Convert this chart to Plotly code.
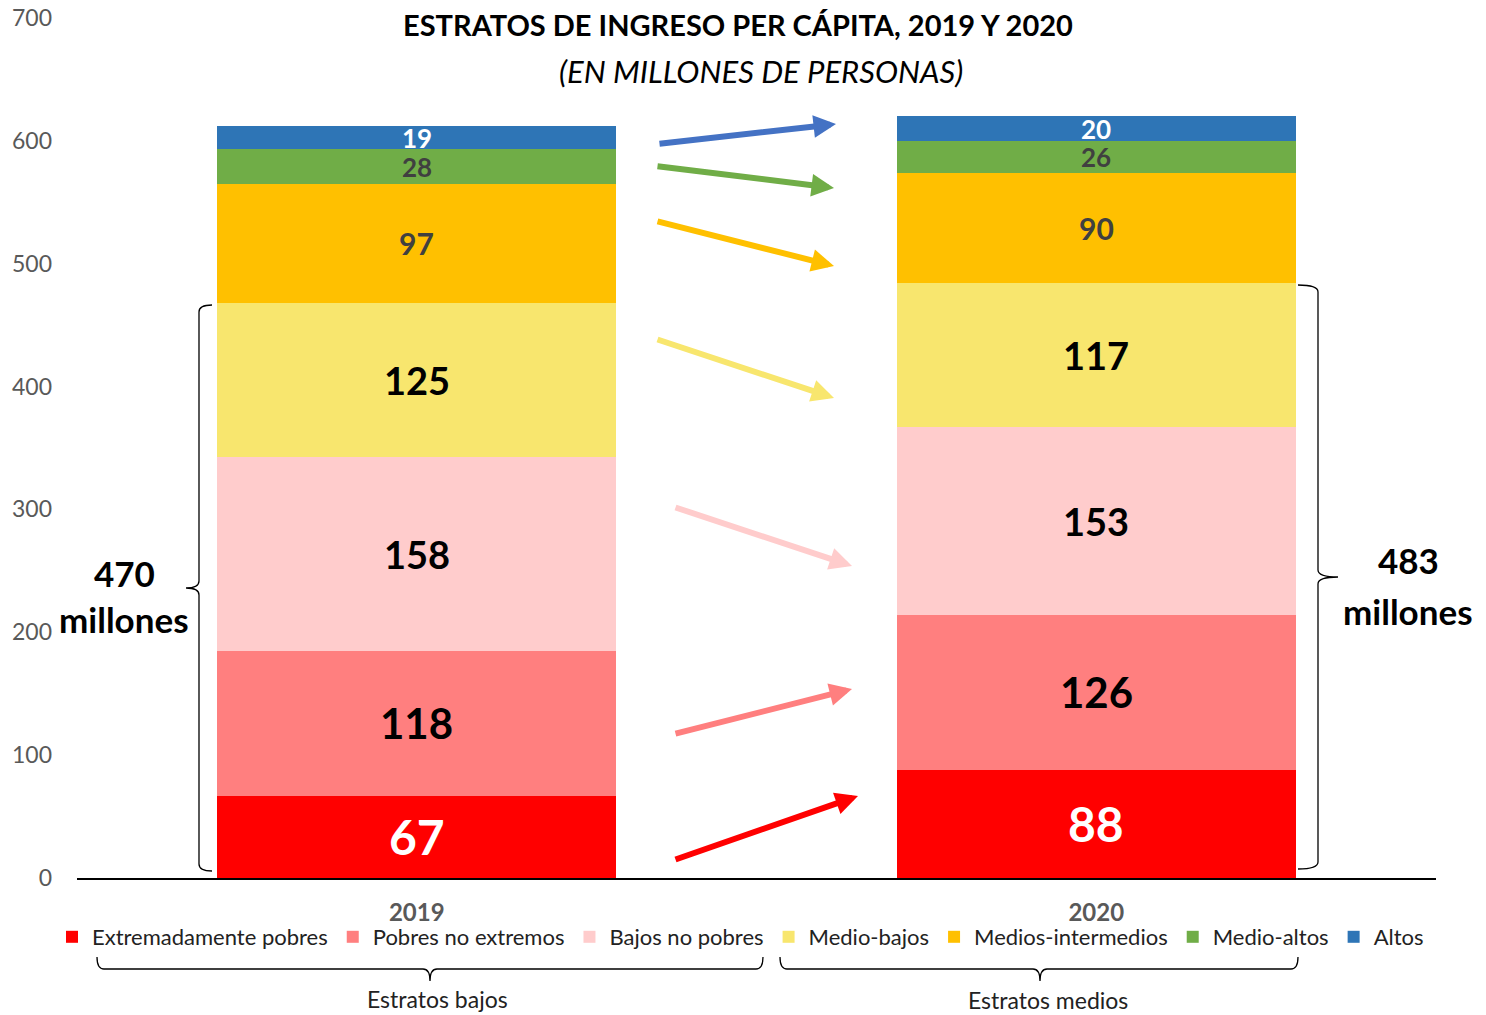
import plotly.graph_objects as go

# ---------------- data ----------------
years = ["2019", "2020"]
strata = ["Extremadamente pobres", "Pobres no extremos", "Bajos no pobres",
          "Medio-bajos", "Medios-intermedios", "Medio-altos", "Altos"]
extremadamente_pobres = [67, 88]
pobres_no_extremos = [118, 126]
bajos_no_pobres = [158, 153]
medio_bajos = [125, 117]
medios_intermedios = [97, 90]
medio_altos = [28, 26]
altos = [19, 20]
y_ticks = [0, 100, 200, 300, 400, 500, 600, 700]
total_bajos_label = ["470", "483"]

series = [extremadamente_pobres, pobres_no_extremos, bajos_no_pobres,
          medio_bajos, medios_intermedios, medio_altos, altos]

# ---------------- styles ----------------
colors = ["#FF0000", "#FF7F7F", "#FFCCCC", "#F8E66E", "#FFC000", "#70AD47", "#2E75B6"]
label_colors = ["#FFFFFF", "#000000", "#000000", "#000000", "#404040", "#404040", "#FFFFFF"]
label_sizes = [48, 42, 38, 38, 30, 26, 26]
arrow_colors = ["#FF0000", "#FF7F7F", "#FFCCCC", "#F8E66E", "#FFC000", "#70AD47", "#4472C4"]
FONT = "Lato"

# page has an 8px body margin; figure sized so the picture matches the 1486x1015 reference
OFF = 8
W, H = 1486 - OFF, 1015 - OFF
# plot area in reference-picture pixels
L, R, T, B = 77, 1436, 18, 878
PW, PH = R - L, B - T


def px(x):
    return (x - L) / PW


def py(y):
    return (B - y) / PH


fig = go.Figure()
for name, vals, col in zip(strata, series, colors):
    fig.add_trace(go.Bar(x=years, y=vals, name=name, marker=dict(color=col, line=dict(width=0)),
                         hoverinfo="y+name"))

annotations = []
# data labels at segment centres
for j, yr in enumerate(years):
    base = 0
    for i, vals in enumerate(series):
        v = vals[j]
        annotations.append(dict(x=j, y=base + v / 2, xref="x", yref="y", text=f"<b>{v}</b>",
                                showarrow=False, xanchor="center", yanchor="middle",
                                font=dict(family=FONT, size=label_sizes[i], color=label_colors[i])))
        base += v

# arrows (tail -> head) in pixel positions of the reference layout, per stratum
arrow_geom = [
    ((674, 860), (858, 796)),
    ((674, 734), (852, 689)),
    ((674, 507), (852, 566)),
    ((656, 339), (834, 398)),
    ((656, 221), (834, 266)),
    ((656, 166), (834, 188)),
    ((658, 144), (836, 124)),
]
for (t0, h0), col in zip(arrow_geom, arrow_colors):
    annotations.append(dict(x=px(h0[0]), y=py(h0[1]), xref="paper", yref="paper",
                            ax=t0[0] - h0[0], ay=t0[1] - h0[1], axref="pixel", ayref="pixel",
                            showarrow=True, arrowhead=2, arrowsize=0.75, arrowwidth=6,
                            arrowcolor=col, text=""))


def text_ann(xc, yc, txt, size, color="#000000"):
    return dict(x=px(xc), y=py(yc), xref="paper", yref="paper", text=txt, showarrow=False,
                xanchor="center", yanchor="middle", font=dict(family=FONT, size=size, color=color))


# title and subtitle
annotations.append(text_ann(738, 25, "<b>ESTRATOS DE INGRESO PER CÁPITA, 2019 Y 2020</b>", 29))
annotations.append(text_ann(761, 71, "<i>(EN MILLONES DE PERSONAS)</i>", 31))

# totals beside braces
for (xc, y1, y2), lab in zip([(124, 573, 619), (1408, 560, 611)], total_bajos_label):
    annotations.append(text_ann(xc, y1, f"<b>{lab}</b>", 35))
    annotations.append(text_ann(xc, y2, "<b>millones</b>", 35))

# group labels under legend
annotations.append(text_ann(437, 999, "Estratos bajos", 23, "#222222"))
annotations.append(text_ann(1048, 1000, "Estratos medios", 23, "#222222"))


def vbrace(x_arm, x_tip, y0, y1, ym, r=7):
    xs = (x_arm + x_tip) / 2
    pts = [
        ("M", [(x_arm, y0)]),
        ("Q", [(xs, y0), (xs, y0 + r)]),
        ("L", [(xs, ym - r)]),
        ("Q", [(xs, ym), (x_tip, ym)]),
        ("Q", [(xs, ym), (xs, ym + r)]),
        ("L", [(xs, y1 - r)]),
        ("Q", [(xs, y1), (x_arm, y1)]),
    ]
    return " ".join(c + " " + " ".join(f"{px(a):.5f},{py(b):.5f}" for a, b in p) for c, p in pts)


def hbrace(y_arm, y_tip, x0, x1, xm, r=7):
    ys = (y_arm + y_tip) / 2
    pts = [
        ("M", [(x0, y_arm)]),
        ("Q", [(x0, ys), (x0 + r, ys)]),
        ("L", [(xm - r, ys)]),
        ("Q", [(xm, ys), (xm, y_tip)]),
        ("Q", [(xm, ys), (xm + r, ys)]),
        ("L", [(x1 - r, ys)]),
        ("Q", [(x1, ys), (x1, y_arm)]),
    ]
    return " ".join(c + " " + " ".join(f"{px(a):.5f},{py(b):.5f}" for a, b in p) for c, p in pts)


shapes = []
brace_line = dict(color="#000000", width=1.3)
shapes.append(dict(type="path", xref="paper", yref="paper", path=vbrace(212, 186, 305, 871, 588),
                   line=brace_line))
shapes.append(dict(type="path", xref="paper", yref="paper", path=vbrace(1298, 1338, 285, 869, 577),
                   line=brace_line))
shapes.append(dict(type="path", xref="paper", yref="paper", path=hbrace(957, 981, 97, 763, 430),
                   line=brace_line))
shapes.append(dict(type="path", xref="paper", yref="paper", path=hbrace(957, 981, 780, 1298, 1040),
                   line=brace_line))

fig.update_layout(
    width=W, height=H,
    margin=dict(l=L - OFF, r=W - (R - OFF), t=T - OFF, b=H - (B - OFF), autoexpand=False),
    paper_bgcolor="white", plot_bgcolor="white",
    barmode="stack", bargap=0.413,
    showlegend=True,
    legend=dict(orientation="h", xref="paper", x=px(52), xanchor="left",
                yref="paper", y=py(937), yanchor="middle",
                traceorder="normal", font=dict(family=FONT, size=22, color="#222222"),
                bgcolor="rgba(0,0,0,0)"),
    xaxis=dict(type="category", range=[-0.5, 1.5], showline=True, linecolor="#000000", linewidth=1.5,
               showgrid=False, ticks="", ticklabelstandoff=12, automargin=False,
               tickfont=dict(family=FONT, size=24, color="#595959"),
               tickvals=years, ticktext=[f"<b>{y}</b>" for y in years]),
    yaxis=dict(range=[0, 700], tickvals=y_ticks, showgrid=False, zeroline=False, showline=False,
               ticks="", ticklabelstandoff=24, automargin=False, ticklabeloverflow="allow",
               tickfont=dict(family=FONT, size=23, color="#595959")),
    annotations=annotations,
    shapes=shapes,
    font=dict(family=FONT),
)

fig.write_html("out.html")
